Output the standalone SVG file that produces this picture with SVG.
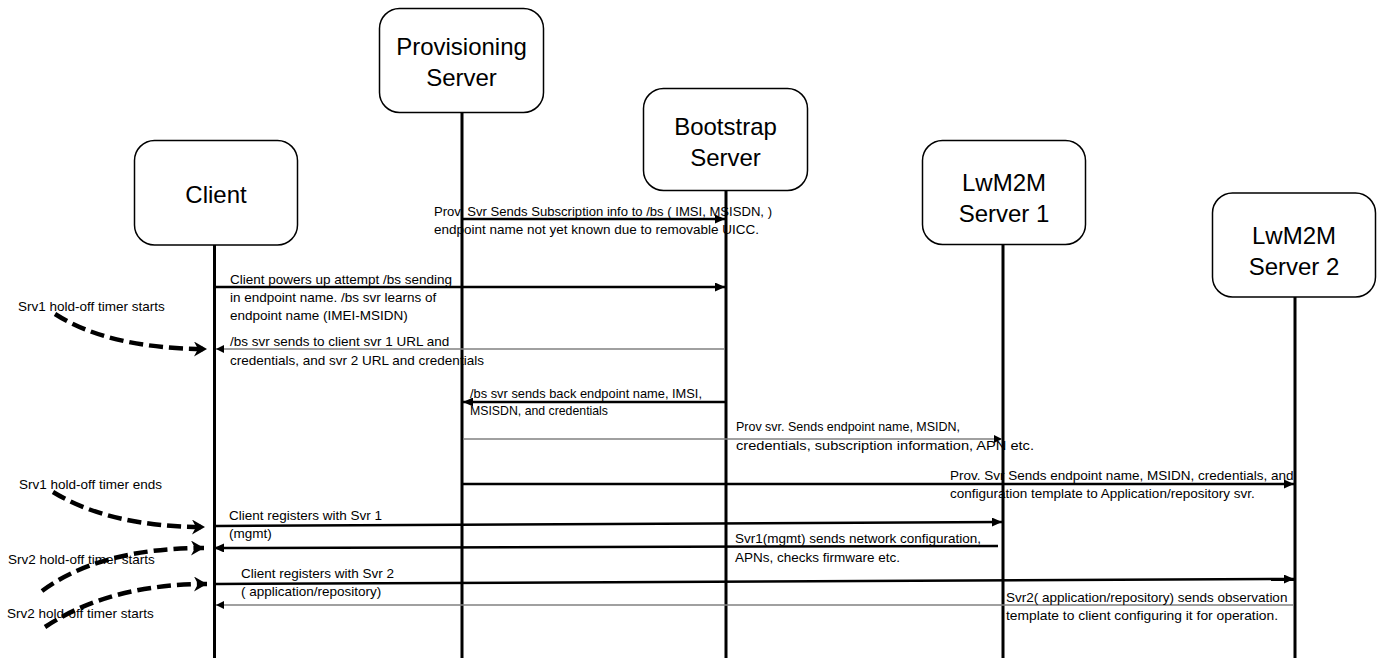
<svg xmlns="http://www.w3.org/2000/svg" width="1378" height="658" viewBox="0 0 1378 658">
<style>
  .box { fill: #fff; stroke: #000; stroke-width: 1.5; }
  .title { font-family: "Liberation Sans", Arial, sans-serif; font-size: 24px; fill: #000; text-anchor: middle; }
  .life { stroke: #000; stroke-width: 3; fill: none; }
  .msg { stroke: #000; stroke-width: 2.5; fill: none; marker-end: url(#ah); }
  .thin { stroke: #808080; stroke-width: 1.5; fill: none; marker-end: url(#ahs); }
  .dash { stroke: #000; stroke-width: 4.5; fill: none; stroke-dasharray: 14 6; marker-end: url(#dah); }
  .lbl { font-family: "Liberation Sans", Arial, sans-serif; font-size: 13.5px; fill: #000; }
</style>
<defs>
  <marker id="ah" markerUnits="userSpaceOnUse" markerWidth="10" markerHeight="9" refX="10" refY="4.5" orient="auto">
    <path d="M0,0 L10,4.5 L0,9 z" fill="#000"/>
  </marker>
  <marker id="ahs" markerUnits="userSpaceOnUse" markerWidth="8" markerHeight="8" refX="8" refY="4" orient="auto">
    <path d="M0,0 L8,4 L0,8 z" fill="#000"/>
  </marker>
  <marker id="dah" markerUnits="userSpaceOnUse" markerWidth="15" markerHeight="15" refX="13" refY="7.5" orient="auto">
    <path d="M0,0 L13,7.5 L0,15 L4,7.5 z" fill="#000"/>
  </marker>
</defs>

<g id="node-client">
  <rect class="box" x="134.5" y="140.5" width="163" height="104.5" rx="20"/>
  <text class="title" x="216" y="203">Client</text>
  <line class="life" x1="214.5" y1="245" x2="214.5" y2="658"/>
</g>
<g id="node-provisioning">
  <rect class="box" x="379.5" y="8.5" width="164" height="104" rx="20"/>
  <text class="title" x="461.5" y="55">Provisioning</text>
  <text class="title" x="461.5" y="86">Server</text>
  <line class="life" x1="462" y1="112.5" x2="462" y2="658"/>
</g>
<g id="node-bootstrap">
  <rect class="box" x="643.5" y="88.5" width="164" height="102" rx="20"/>
  <text class="title" x="725.5" y="135">Bootstrap</text>
  <text class="title" x="725.5" y="166">Server</text>
  <line class="life" x1="726" y1="190.5" x2="726" y2="658"/>
</g>
<g id="node-lwm2m1">
  <rect class="box" x="922.5" y="140.5" width="163" height="104" rx="20"/>
  <text class="title" x="1004" y="191">LwM2M</text>
  <text class="title" x="1004" y="222">Server 1</text>
  <line class="life" x1="1003" y1="244.5" x2="1003" y2="658"/>
</g>
<g id="node-lwm2m2">
  <rect class="box" x="1212.5" y="193" width="163" height="104" rx="20"/>
  <text class="title" x="1294" y="244">LwM2M</text>
  <text class="title" x="1294" y="275">Server 2</text>
  <line class="life" x1="1295" y1="297" x2="1295" y2="658"/>
</g>

<g id="connectors">
  <line class="msg" x1="462" y1="219" x2="725" y2="219"/>
  <line class="msg" x1="216" y1="287" x2="725" y2="287"/>
  <line class="thin" x1="725" y1="349" x2="216" y2="349"/>
  <line class="msg" x1="725" y1="402" x2="463" y2="402"/>
  <line class="thin" x1="463" y1="439" x2="1002" y2="439"/>
  <line class="msg" x1="462" y1="484" x2="1294" y2="484"/>
  <line class="msg" x1="216" y1="526" x2="1002" y2="522"/>
  <line class="msg" x1="998" y1="546" x2="214" y2="548"/>
  <line class="msg" x1="216" y1="584" x2="1294" y2="579"/>
  <line class="thin" x1="1294" y1="605" x2="216" y2="605"/>
  <path class="dash" d="M55,314 Q110,349 207,349"/>
  <path class="dash" d="M53,492 Q110,527 205,527"/>
  <path class="dash" d="M42,591 Q100,548 204,548"/>
  <path class="dash" d="M45,627 Q110,584 207,584"/>
</g>

<g id="labels">
  <text class="lbl" x="434" y="216" textLength="338" lengthAdjust="spacingAndGlyphs">Prov. Svr Sends Subscription info to /bs ( IMSI, MSISDN, )</text>
  <text class="lbl" x="434" y="234" textLength="325" lengthAdjust="spacingAndGlyphs">endpoint name not yet known due to removable UICC.</text>

  <text class="lbl" x="230" y="284">Client powers up attempt /bs sending</text>
  <text class="lbl" x="230" y="302">in endpoint name. /bs svr learns of</text>
  <text class="lbl" x="230" y="320">endpoint name (IMEI-MSIDN)</text>

  <text class="lbl" x="230" y="346">/bs svr sends to client svr 1 URL and</text>
  <text class="lbl" x="230" y="365">credentials, and svr 2 URL and credentials</text>

  <text class="lbl" x="18" y="311">Srv1 hold-off timer starts</text>

  <text class="lbl" x="470" y="398" textLength="232" lengthAdjust="spacingAndGlyphs">/bs svr sends back endpoint name, IMSI,</text>
  <text class="lbl" x="470" y="415" textLength="138" lengthAdjust="spacingAndGlyphs">MSISDN, and credentials</text>

  <text class="lbl" x="736" y="431" textLength="224" lengthAdjust="spacingAndGlyphs">Prov svr. Sends endpoint name, MSIDN,</text>
  <text class="lbl" x="736" y="450" textLength="298" lengthAdjust="spacingAndGlyphs">credentials, subscription information, APN etc.</text>

  <text class="lbl" x="950" y="480">Prov. Svr Sends endpoint name, MSIDN, credentials, and</text>
  <text class="lbl" x="950" y="498">configuration template to Application/repository svr.</text>

  <text class="lbl" x="19" y="489">Srv1 hold-off timer ends</text>

  <text class="lbl" x="229" y="520">Client registers with Svr 1</text>
  <text class="lbl" x="229" y="538">(mgmt)</text>

  <text class="lbl" x="735" y="543">Svr1(mgmt) sends network configuration,</text>
  <text class="lbl" x="735" y="562">APNs, checks firmware etc.</text>

  <text class="lbl" x="8" y="564">Srv2 hold-off timer starts</text>

  <text class="lbl" x="241" y="578">Client registers with Svr 2</text>
  <text class="lbl" x="241" y="596">( application/repository)</text>

  <text class="lbl" x="7" y="618">Srv2 hold-off timer starts</text>

  <text class="lbl" x="1006" y="602">Svr2( application/repository) sends observation</text>
  <text class="lbl" x="1006" y="620" textLength="272" lengthAdjust="spacingAndGlyphs">template to client configuring it for operation.</text>
</g>
</svg>
